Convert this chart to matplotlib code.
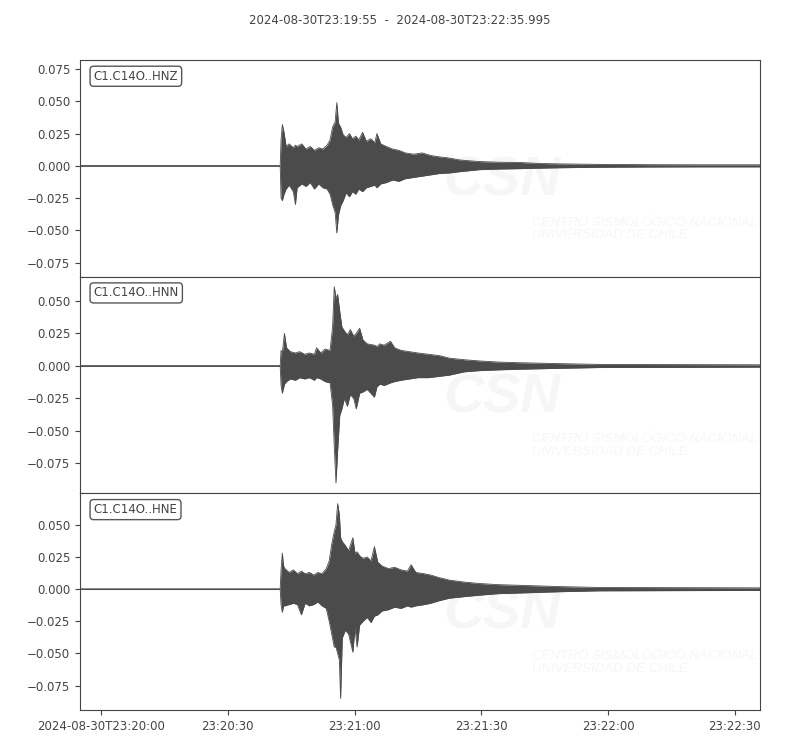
import matplotlib
matplotlib.use('Agg')
import matplotlib.pyplot as plt
import numpy as np

# Waveform envelopes (seconds after 23:19:55, upper, lower)
t_hnz = [0, 47.4, 47.6, 47.9, 48.3, 48.8, 49.5, 50.5, 51.0, 51.4, 52.5, 53.5, 54.5, 55.5,
         56.5, 57.5, 58.5, 59.2, 59.8, 60.4, 60.8, 61.2, 61.7, 62.3, 63.0, 63.8, 64.5,
         65.3, 66.0, 66.9, 67.8, 68.8, 69.8, 70.3, 71.2, 72.5, 74.0, 75.5, 77.0, 79.0,
         81.0, 83.0, 85.0, 87.5, 90.0, 94.5, 99.0, 104.0, 109.0, 113.5, 123.0, 135.0,
         147.0, 161.0]
up_hnz = [0.0003, 0.0003, 0.020, 0.032, 0.026, 0.015, 0.017, 0.014, 0.016, 0.015, 0.017,
          0.013, 0.015, 0.012, 0.014, 0.013, 0.016, 0.020, 0.030, 0.034, 0.049, 0.033,
          0.030, 0.024, 0.022, 0.025, 0.021, 0.023, 0.020, 0.026, 0.019, 0.021, 0.018,
          0.025, 0.017, 0.015, 0.013, 0.012, 0.010, 0.009, 0.010, 0.008, 0.007, 0.006,
          0.0045, 0.0033, 0.0028, 0.0026, 0.0018, 0.0015, 0.0011, 0.0009, 0.0008, 0.0008]
lo_hnz = [-0.0003, -0.0003, -0.025, -0.027, -0.022, -0.018, -0.015, -0.020, -0.030, -0.017,
          -0.014, -0.016, -0.013, -0.018, -0.014, -0.017, -0.018, -0.022, -0.030, -0.036,
          -0.052, -0.038, -0.031, -0.027, -0.021, -0.024, -0.020, -0.022, -0.018, -0.020,
          -0.017, -0.016, -0.015, -0.017, -0.014, -0.013, -0.011, -0.012, -0.010, -0.009,
          -0.008, -0.007, -0.006, -0.0055, -0.0045, -0.003, -0.0025, -0.0022, -0.0018,
          -0.0015, -0.0011, -0.0009, -0.0008, -0.0008]

t_hnn = [0, 47.4, 47.6, 47.9, 48.4, 48.9, 49.8, 51.0, 52.0, 53.2, 54.3, 55.5, 56.0, 57.0,
         58.0, 59.2, 59.8, 60.2, 60.6, 61.0, 61.5, 62.0, 62.6, 63.3, 64.0, 64.8, 65.4,
         66.2, 67.0, 68.0, 69.7, 70.3, 71.0, 72.0, 73.5, 74.5, 76.0, 78.0, 80.0, 82.5,
         85.0, 87.5, 91.0, 94.5, 99.0, 104.0, 113.5, 123.0, 161.0]
up_hnn = [0.0003, 0.0003, 0.012, 0.010, 0.025, 0.014, 0.011, 0.010, 0.011, 0.009, 0.010,
          0.009, 0.014, 0.010, 0.013, 0.012, 0.030, 0.061, 0.052, 0.055, 0.042, 0.030,
          0.027, 0.024, 0.028, 0.023, 0.025, 0.029, 0.020, 0.017, 0.016, 0.015, 0.017,
          0.016, 0.019, 0.014, 0.012, 0.011, 0.010, 0.009, 0.008, 0.006, 0.0048, 0.0039,
          0.003, 0.0025, 0.0018, 0.0012, 0.0009]
lo_hnn = [-0.0003, -0.0003, -0.015, -0.021, -0.014, -0.012, -0.010, -0.011, -0.009, -0.010,
          -0.009, -0.011, -0.009, -0.010, -0.012, -0.013, -0.030, -0.062, -0.090, -0.065,
          -0.038, -0.033, -0.025, -0.031, -0.022, -0.025, -0.033, -0.021, -0.020, -0.018,
          -0.024, -0.016, -0.014, -0.015, -0.013, -0.012, -0.011, -0.010, -0.009, -0.009,
          -0.008, -0.007, -0.0045, -0.0036, -0.003, -0.0025, -0.0018, -0.0012, -0.0009]

t_hne = [0, 47.4, 47.6, 47.9, 48.2, 48.5, 49.5, 50.5, 51.5, 52.4, 53.3, 54.3, 55.3, 56.3,
         57.3, 58.3, 59.0, 59.6, 60.2, 60.6, 61.0, 61.4, 61.7, 62.1, 62.8, 63.6, 64.6,
         65.1, 65.6, 66.2, 67.0, 68.0, 68.9, 69.7, 70.5, 71.5, 73.0, 74.5, 76.0, 77.5,
         78.4, 79.5, 81.5, 83.0, 85.0, 87.5, 91.0, 94.5, 99.0, 104.0, 113.5, 123.0, 161.0]
up_hne = [0.0003, 0.0003, 0.015, 0.028, 0.018, 0.016, 0.013, 0.015, 0.012, 0.014, 0.012,
          0.013, 0.011, 0.013, 0.012, 0.016, 0.022, 0.035, 0.045, 0.050, 0.0665, 0.058,
          0.040, 0.037, 0.034, 0.030, 0.040, 0.028, 0.029, 0.026, 0.024, 0.025, 0.022,
          0.033, 0.021, 0.018, 0.016, 0.017, 0.015, 0.014, 0.019, 0.013, 0.012, 0.011,
          0.009, 0.007, 0.0055, 0.0044, 0.0035, 0.003, 0.002, 0.0013, 0.001]
lo_hne = [-0.0003, -0.0003, -0.012, -0.018, -0.013, -0.013, -0.012, -0.011, -0.012, -0.020,
          -0.011, -0.013, -0.012, -0.010, -0.013, -0.015, -0.025, -0.035, -0.045, -0.045,
          -0.050, -0.055, -0.085, -0.038, -0.032, -0.035, -0.049, -0.030, -0.045, -0.028,
          -0.025, -0.022, -0.026, -0.021, -0.020, -0.017, -0.016, -0.014, -0.015, -0.013,
          -0.014, -0.013, -0.012, -0.011, -0.009, -0.007, -0.0058, -0.0047, -0.0035,
          -0.003, -0.002, -0.0013, -0.001]

labels = ['C1.C14O..HNZ', 'C1.C14O..HNN', 'C1.C14O..HNE']
ylims = [(-0.0859, 0.0820), (-0.098, 0.0687), (-0.094, 0.0745)]
yticks = [[-0.075, -0.05, -0.025, 0, 0.025, 0.05, 0.075],
          [-0.075, -0.05, -0.025, 0, 0.025, 0.05],
          [-0.075, -0.05, -0.025, 0, 0.025, 0.05]]
tick_pos = [5, 35, 65, 95, 125, 155]
tick_lab = ['2024-08-30T23:20:00', '23:20:30', '23:21:00', '23:21:30', '23:22:00', '23:22:30']
title = '2024-08-30T23:19:55  -  2024-08-30T23:22:35.995'

col = '#4b4b4b'
txt = '#444444'
wm = '#f6f6f6'
plt.rcParams['font.size'] = 8.5


def yfmt(v, pos):
    if abs(v) < 1e-9:
        return '0.000'
    return ('%.3f' % v).replace('-', '\u2212')


fig = plt.figure(figsize=(8, 7.5), dpi=100)
axes = fig.subplots(3, 1, sharex=True)
fig.subplots_adjust(left=0.1, right=0.95, top=0.92, bottom=0.0533, hspace=0)

traces = [(t_hnz, up_hnz, lo_hnz), (t_hnn, up_hnn, lo_hnn), (t_hne, up_hne, lo_hne)]
for i, ax in enumerate(axes):
    t, up, lo = traces[i]
    # faint logo watermark
    ax.text(0.62, 0.44, 'CSN', transform=ax.transAxes, ha='center', va='center',
            fontsize=40, fontweight='bold', style='italic', color=wm,
            family='Liberation Sans', zorder=0)
    ax.text(0.665, 0.22, 'CENTRO SISMOLÓGICO NACIONAL\nUNIVERSIDAD DE CHILE',
            transform=ax.transAxes, ha='left', va='center', fontsize=9.5,
            style='italic', color=wm, family='Liberation Sans',
            linespacing=1.05, zorder=0)
    ax.fill_between(t, lo, up, color=col, lw=0, zorder=2)
    ax.plot(t, up, color=col, lw=0.6, zorder=2)
    ax.plot(t, lo, color=col, lw=0.6, zorder=2)
    ax.set_ylim(*ylims[i])
    ax.set_yticks(yticks[i])
    ax.yaxis.set_major_formatter(plt.FuncFormatter(yfmt))
    ax.tick_params(colors=txt, labelcolor=txt, labelsize=8.5)
    for s in ax.spines.values():
        s.set_color(txt)
    ax.text(0.02, 0.955, labels[i], transform=ax.transAxes, ha='left', va='top',
            color=txt, fontsize=8.5,
            bbox=dict(boxstyle='round,pad=0.3', fc='white', ec=txt, alpha=0.9))
    if i < 2:
        ax.tick_params(axis='x', bottom=False, labelbottom=False)

axes[-1].set_xlim(0, 160.995)
axes[-1].set_xticks(tick_pos)
axes[-1].set_xticklabels(tick_lab)
fig.text(0.5, 0.973, title, ha='center', va='center', color=txt, fontsize=8.5)

fig.savefig('out.png', dpi=100)
